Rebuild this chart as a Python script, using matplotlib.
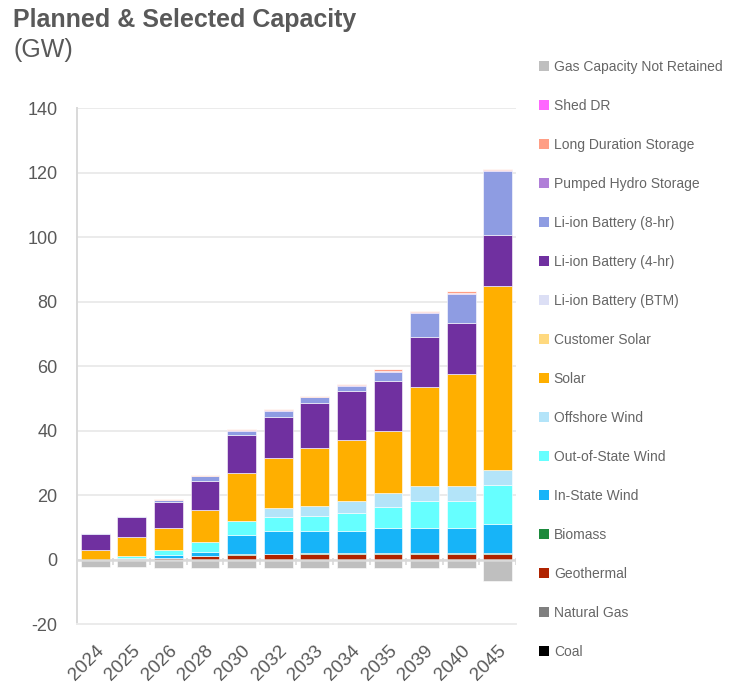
import numpy as np
import matplotlib
matplotlib.use('Agg')
import matplotlib.pyplot as plt
from matplotlib.patches import Patch

plt.rcParams['font.family'] = ['Liberation Sans', 'DejaVu Sans']
plt.rcParams['axes.unicode_minus'] = False

years = ['2024', '2025', '2026', '2028', '2030', '2032', '2033', '2034', '2035', '2039', '2040', '2045']

# GW, stacked bottom -> top
coal = [0, 0, 0, 0, 0, 0, 0, 0, 0, 0, 0, 0]
natural_gas = [0, 0, 0, 0, 0, 0, 0, 0, 0, 0, 0, 0]
geothermal = [0, 0.1, 0.6, 1.0, 1.4, 1.7, 1.8, 1.8, 1.8, 1.8, 1.8, 1.8]
biomass = [0, 0, 0, 0, 0.4, 0.1, 0.3, 0.3, 0.3, 0.3, 0.3, 0.3]
in_state_wind = [0, 0.3, 0.7, 1.4, 5.8, 7.0, 6.7, 6.7, 7.7, 7.7, 7.7, 9.0]
out_state_wind = [0, 0.6, 1.6, 3.2, 4.5, 4.55, 4.65, 5.5, 6.4, 8.5, 8.5, 12.0]
offshore_wind = [0, 0, 0, 0, 0, 2.55, 3.15, 4.0, 4.6, 4.5, 4.5, 4.6]
solar = [3.1, 5.9, 6.9, 9.7, 14.6, 15.7, 17.9, 18.9, 18.95, 30.6, 34.9, 57.3]
customer_solar = [0, 0, 0, 0, 0, 0, 0, 0, 0, 0, 0, 0]
li_btm = [0, 0, 0, 0, 0, 0, 0, 0, 0, 0, 0, 0]
li_4hr = [4.7, 6.4, 8.1, 9.2, 11.8, 12.7, 14.0, 15.0, 15.65, 15.6, 15.6, 15.6]
li_8hr = [0.3, 0.3, 0.6, 1.3, 1.4, 1.9, 1.8, 1.7, 2.9, 7.5, 9.2, 19.9]
pumped_hydro = [0, 0, 0, 0.2, 0.2, 0.2, 0.2, 0.2, 0.2, 0.2, 0.2, 0.3]
long_duration = [0, 0, 0.2, 0.3, 0.3, 0.2, 0.2, 0.3, 0.5, 0.4, 0.6, 0.3]
shed_dr = [0, 0, 0, 0, 0, 0, 0, 0, 0, 0, 0, 0]
gas_not_retained = [-2.3, -2.3, -2.5, -2.5, -2.5, -2.5, -2.5, -2.5, -2.5, -2.5, -2.5, -6.8]

series = [
    ('Coal', coal, '#000000'),
    ('Natural Gas', natural_gas, '#7F7F7F'),
    ('Geothermal', geothermal, '#B02300'),
    ('Biomass', biomass, '#1C8A3C'),
    ('In-State Wind', in_state_wind, '#17B4F8'),
    ('Out-of-State Wind', out_state_wind, '#66FFFF'),
    ('Offshore Wind', offshore_wind, '#B3E4F9'),
    ('Solar', solar, '#FFAF00'),
    ('Customer Solar', customer_solar, '#FFD97F'),
    ('Li-ion Battery (BTM)', li_btm, '#DCDFF5'),
    ('Li-ion Battery (4-hr)', li_4hr, '#7030A0'),
    ('Li-ion Battery (8-hr)', li_8hr, '#8E9CE2'),
    ('Pumped Hydro Storage', pumped_hydro, '#B07FD8'),
    ('Long Duration Storage', long_duration, '#FF9E85'),
    ('Shed DR', shed_dr, '#FF66FF'),
]

fig = plt.figure(figsize=(7.32, 6.85), dpi=100)
ax = fig.add_axes([0.105, 0.089, 0.600, 0.753])

x = np.arange(len(years))
w = 0.79
bottom = np.zeros(len(years))
handles = []
for name, vals, col in series:
    v = np.array(vals, dtype=float)
    ax.bar(x, v, w, bottom=bottom, color=col, edgecolor='white', linewidth=0.4, zorder=3)
    bottom += v
    handles.append(Patch(facecolor=col, label=name))
ax.bar(x, gas_not_retained, w, color='#BFBFBF', edgecolor='white', linewidth=0.4, zorder=3)
handles.append(Patch(facecolor='#BFBFBF', label='Gas Capacity Not Retained'))

ax.set_ylim(-20, 140)
ax.set_xlim(-0.5, len(years) - 0.5)
ax.set_yticks(range(-20, 141, 20))
ax.yaxis.grid(True, color='#EBEBEB', linewidth=1.4)
ax.set_axisbelow(True)
for s in ['top', 'right']:
    ax.spines[s].set_visible(False)
ax.spines['left'].set_color('#D9D9D9')
ax.spines['left'].set_linewidth(1.4)
ax.spines['bottom'].set_color('#EBEBEB')
ax.spines['bottom'].set_linewidth(1.4)

# zero line with category separators
ax.axhline(0, color='#D9D9D9', linewidth=1.8, zorder=4)
ax.vlines(np.arange(len(years) + 1) - 0.5, -1.6, 0.6, color='#D9D9D9', linewidth=1.2, zorder=4)

ax.set_xticks(x)
ax.set_xticklabels(years, rotation=45, ha='right', rotation_mode='anchor')
ax.tick_params(axis='x', length=0, pad=13, labelsize=13.5, labelcolor='#595959')
ax.tick_params(axis='y', length=0, pad=14, labelsize=13, labelcolor='#595959')

fig.text(0.018, 1 - 27 / 685, 'Planned & Selected Capacity', fontsize=18, fontweight='bold',
         color='#595959', va='baseline')
fig.text(0.018, 1 - 57 / 685, '(GW)', fontsize=18, color='#595959', va='baseline')

leg = fig.legend(handles=handles[::-1], loc='upper left', bbox_to_anchor=(0.729, 0.921),
                 frameon=False, fontsize=10, handlelength=0.7, handleheight=0.7,
                 handletextpad=0.35, labelspacing=1.8, borderaxespad=0)
for t in leg.get_texts():
    t.set_color('#666666')

fig.savefig('out.png', dpi=100)
